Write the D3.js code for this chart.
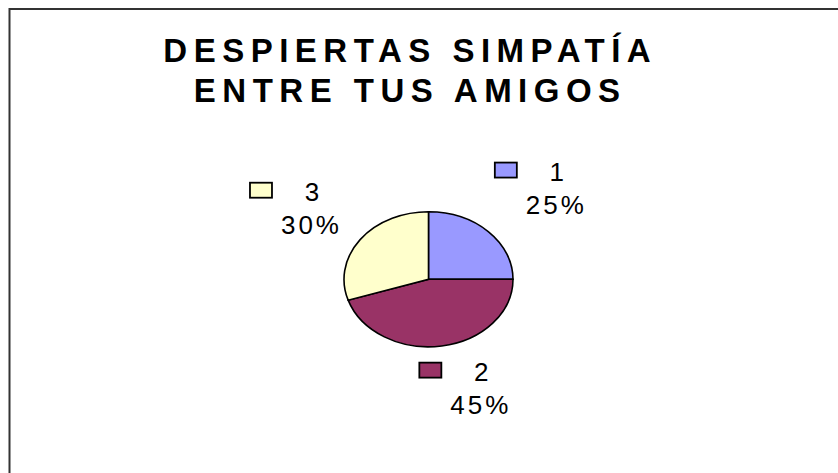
<!DOCTYPE html>
<html>
<head>
<meta charset="utf-8">
<script src="https://cdn.jsdelivr.net/npm/d3@7"></script>
<style>
  html, body { margin: 0; padding: 0; background: #fff; }
  svg { display: block; }
</style>
</head>
<body>
<div id="chart"></div>
<script>
const titleLines = ["DESPIERTAS SIMPATÍA", "ENTRE TUS AMIGOS"]
const categories = ["1", "2", "3"]
const values = [25, 45, 30]
const colors = ["#9999FF", "#993366", "#FFFFCC"]

// label layout tweaks (Excel doesn't place them quite symmetric)
const labelNudge = [[-2, -4], [10, -19], [-6, 1]]

const W = 838, H = 473
const cx = 428.5, cy = 279.3
const rx = 84.5, ry = 67.5
const font = "Arial, 'Liberation Sans', sans-serif"

const svg = d3.select("#chart").append("svg")
  .attr("width", W)
  .attr("height", H)

// outer chart frame, runs off the right/bottom edge
svg.append("rect")
  .attr("x", 9.5)
  .attr("y", 9)
  .attr("width", 900)
  .attr("height", 600)
  .attr("fill", "#fff")
  .attr("stroke", "#333")
  .attr("stroke-width", 2)

const ls = 6.5
svg.append("g")
  .attr("font-family", font)
  .attr("font-weight", "bold")
  .attr("font-size", 33)
  .attr("text-anchor", "middle")
  .attr("fill", "#000")
  .selectAll("text")
  .data(titleLines)
  .join("text")
    .attr("x", 407 + ls / 2)
    .attr("y", (d, i) => 62 + i * 40)
    .attr("letter-spacing", ls)
    .text(d => d)

const pie = d3.pie().sort(null).value(d => d)
const arcs = pie(values)
const arc = d3.arc().innerRadius(0).outerRadius(rx)

const pieG = svg.append("g")
  .attr("transform", `translate(${cx},${cy}) scale(1,${ry / rx})`)

pieG.selectAll("path")
  .data(arcs)
  .join("path")
    .attr("d", arc)
    .attr("fill", (d, i) => colors[i])
    .attr("stroke", "#000")
    .attr("stroke-width", 1.6)
    .attr("vector-effect", "non-scaling-stroke")

const total = d3.sum(values)
const k = 1.88
const labels = svg.append("g")
  .attr("font-family", font)
  .attr("font-size", 26)
  .attr("fill", "#000")

arcs.forEach((a, i) => {
  const mid = (a.startAngle + a.endAngle) / 2
  const bx = cx + Math.sin(mid) * rx * k + labelNudge[i][0]
  const by = cy - Math.cos(mid) * ry * k + labelNudge[i][1]
  const L = bx - 45, T = by - 24
  const g = labels.append("g")
  g.append("rect")
    .attr("x", L + 1)
    .attr("y", T + 1)
    .attr("width", 22)
    .attr("height", 15)
    .attr("fill", colors[i])
    .attr("stroke", "#000")
    .attr("stroke-width", 1.8)
  g.append("text")
    .attr("x", L + 63)
    .attr("y", T + 19)
    .attr("text-anchor", "middle")
    .text(categories[i])
  g.append("text")
    .attr("x", L + 61 + 1.5)
    .attr("y", T + 52)
    .attr("text-anchor", "middle")
    .attr("letter-spacing", 3)
    .text(d3.format(".0%")(values[i] / total))
})
</script>
</body>
</html>
